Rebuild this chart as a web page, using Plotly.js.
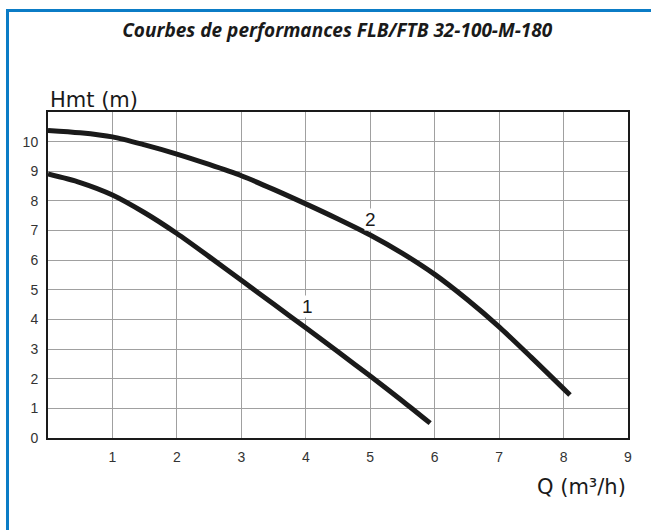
<!DOCTYPE html>
<html>
<head>
<meta charset="utf-8">
<script src="https://cdn.plot.ly/plotly-3.0.1.min.js"></script>
<style>
  html, body { margin: 0; padding: 0; background: #fff; }
  #wrap { position: relative; width: 651px; height: 530px; overflow: hidden; }
  #chart { position: absolute; left: 0; top: 0; width: 651px; height: 530px; }
  #frame { position: absolute; left: 6px; top: 9px; width: 700px; height: 600px;
           border-left: 3px solid #0b7cc6; border-top: 3px solid #0b7cc6; pointer-events: none; }
</style>
</head>
<body>
<div id="wrap">
  <div id="chart"></div>
  <div id="frame"></div>
</div>
<script>
// Curve 1
const q1 = [0, 0.5, 1, 1.5, 2, 2.5, 3, 3.5, 4, 4.5, 5, 5.5, 5.93];
const h1 = [8.91, 8.62, 8.2, 7.6, 6.9, 6.12, 5.32, 4.52, 3.72, 2.91, 2.09, 1.25, 0.5];
// Curve 2
const q2 = [0, 0.5, 1, 1.5, 2, 2.5, 3, 3.5, 4, 4.5, 5, 5.5, 6, 6.5, 7, 7.5, 8.1];
const h2 = [10.38, 10.3, 10.16, 9.89, 9.58, 9.23, 8.85, 8.39, 7.9, 7.39, 6.85, 6.23, 5.52, 4.68, 3.75, 2.72, 1.45];

const xTicks = [1, 2, 3, 4, 5, 6, 7, 8, 9];
const yTicks = [0, 1, 2, 3, 4, 5, 6, 7, 8, 9, 10];
const curveLabels = ['1', '2'];
const labelQ = [4.02, 5.01];
const labelH = [4.45, 7.36];

const lineStyle = {color: '#1a1a1a', width: 5, shape: 'spline', smoothing: 0.8};

const traces = [
  {x: q1, y: h1, mode: 'lines', line: lineStyle, hoverinfo: 'skip'},
  {x: q2, y: h2, mode: 'lines', line: lineStyle, hoverinfo: 'skip'}
];

const annotations = curveLabels.map((t, i) => ({
  x: labelQ[i], y: labelH[i], xref: 'x', yref: 'y', text: t, showarrow: false,
  font: {family: 'Liberation Sans, Arial, sans-serif', size: 19, color: '#1a1a1a'},
  bgcolor: '#ffffff', borderpad: 0
}));

annotations.push({
  xref: 'paper', yref: 'paper', x: 0, y: 1.0, xanchor: 'left', yanchor: 'middle', yshift: 12,
  text: 'Hmt (m)', showarrow: false,
  font: {family: 'DejaVu Sans, sans-serif', size: 21, color: '#1a1a1a'}
});
annotations.push({
  xref: 'paper', yref: 'paper', x: 1.0, y: 0, xanchor: 'right', yanchor: 'middle', yshift: -49,
  text: 'Q (m³/h)', showarrow: false,
  font: {family: 'DejaVu Sans, sans-serif', size: 21, color: '#1a1a1a'}
});

const layout = {
  width: 651, height: 530,
  margin: {l: 48, r: 23, t: 112, b: 92},
  paper_bgcolor: '#ffffff', plot_bgcolor: '#ffffff',
  showlegend: false,
  title: {
    text: '<b><i>Courbes de performances FLB/FTB 32-100-M-180</i></b>',
    x: 0.518, xref: 'container', xanchor: 'center',
    y: 0.943, yref: 'container', yanchor: 'middle',
    font: {family: 'Open Sans, sans-serif', size: 19, color: '#1a1a1a'}
  },
  xaxis: {
    range: [0, 9], tickvals: xTicks, ticktext: xTicks.map(String),
    showgrid: true, gridcolor: '#a0a0a0', gridwidth: 1,
    zeroline: false, showline: true, linecolor: '#1a1a1a', linewidth: 2, mirror: true,
    ticks: '', ticklabelstandoff: 5,
    tickfont: {family: 'Liberation Sans, Arial, sans-serif', size: 14, color: '#333'},
    fixedrange: true
  },
  yaxis: {
    range: [0, 11], tickvals: yTicks, ticktext: yTicks.map(String),
    showgrid: true, gridcolor: '#a0a0a0', gridwidth: 1,
    zeroline: false, showline: true, linecolor: '#1a1a1a', linewidth: 2, mirror: true,
    ticks: '', ticklabelstandoff: 5,
    tickfont: {family: 'Liberation Sans, Arial, sans-serif', size: 14, color: '#333'},
    fixedrange: true
  },
  annotations: annotations
};

Plotly.newPlot('chart', traces, layout, {displayModeBar: false, staticPlot: true});
</script>
</body>
</html>
